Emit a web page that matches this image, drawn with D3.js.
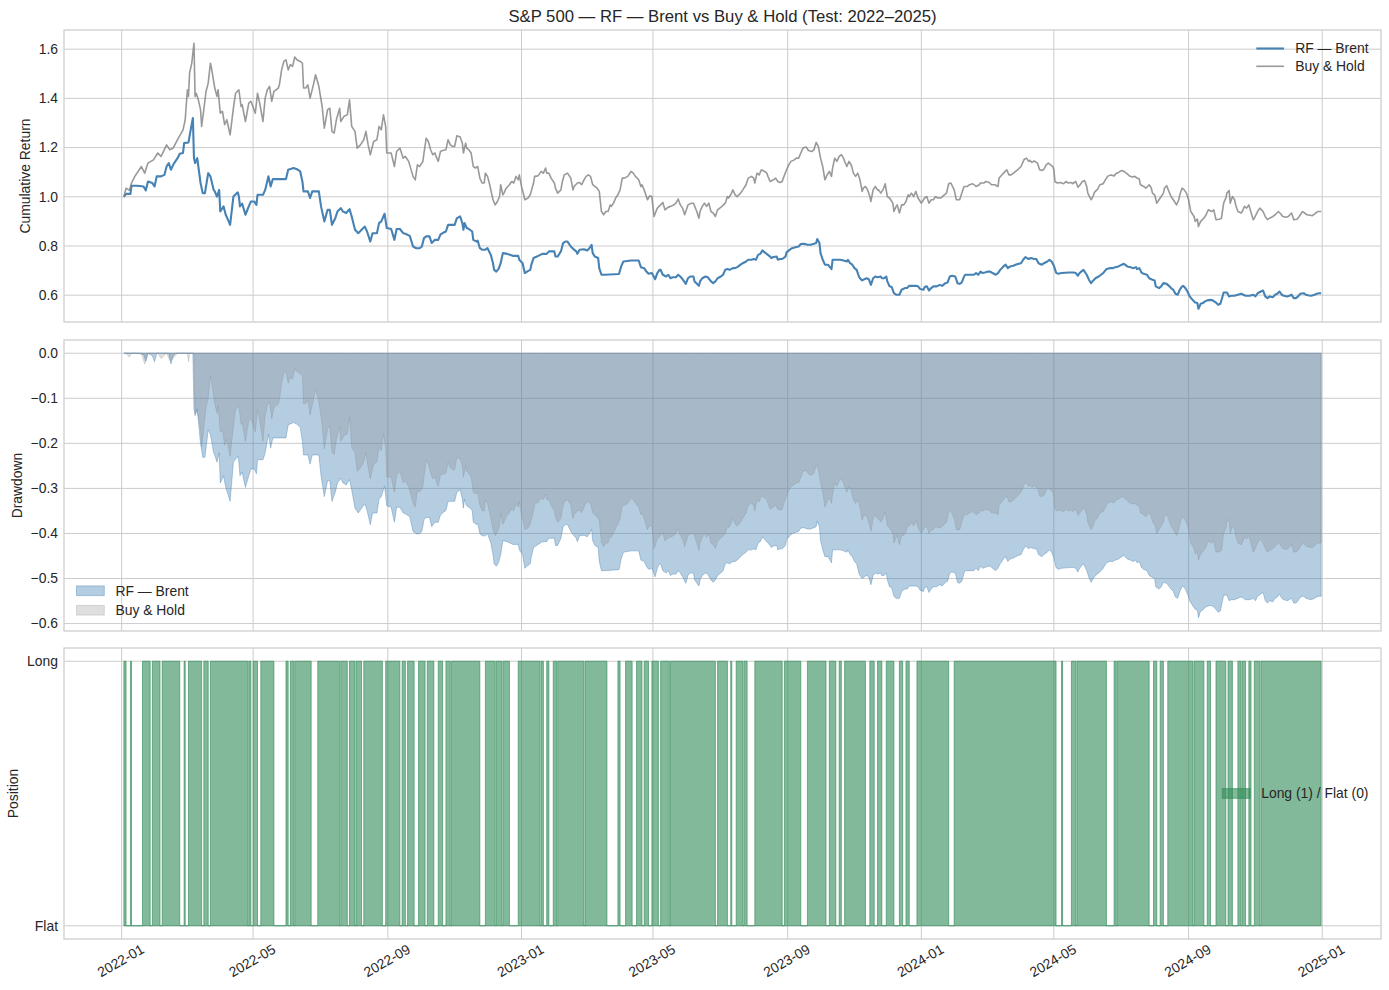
<!DOCTYPE html>
<meta charset="utf-8">
<script src="https://d3js.org/d3.v7.min.js"></script>
<style>
  body { margin: 0; background: #fff; }
  svg { display: block; }
</style>
<div id="chart"></div>
<script>
// ---- data (day offsets from 2022-01-01) ----
const rfCumulative = [
  [2,1.000],[4,1.012],[8,1.012],[9,1.045],[14,1.045],[20,1.042],[22,1.026],[24,1.062],[28,1.056],[30,1.042],
  [32,1.083],[36,1.083],[39,1.089],[41,1.123],[43,1.137],[45,1.110],[47,1.130],[49,1.144],[51,1.157],[53,1.175],
  [56,1.178],[57,1.218],[61,1.221],[63,1.272],[65,1.320],[66,1.157],[67,1.137],[69,1.157],[70,1.123],[72,1.056],
  [74,1.015],[76,1.015],[79,1.096],[81,1.083],[84,1.028],[85,1.022],[87,1.001],[89,1.028],[90,0.940],[93,0.961],
  [95,0.927],[97,0.907],[99,0.886],[102,1.001],[106,1.018],[107,1.001],[108,0.961],[110,0.972],[113,0.927],[116,0.961],
  [118,0.981],[121,0.981],[123,0.967],[124,1.008],[129,1.008],[131,1.028],[134,1.083],[136,1.042],[138,1.072],[150,1.072],
  [152,1.110],[157,1.117],[160,1.112],[163,1.103],[165,1.062],[166,1.022],[170,1.022],[172,0.995],[174,1.022],[180,1.022],
  [182,0.961],[185,0.900],[188,0.947],[190,0.947],[192,0.886],[195,0.913],[197,0.940],[200,0.954],[202,0.940],[205,0.934],
  [208,0.950],[210,0.920],[213,0.866],[216,0.852],[219,0.866],[222,0.879],[224,0.859],[227,0.818],[229,0.852],[233,0.852],
  [235,0.893],[237,0.900],[240,0.931],[242,0.873],[246,0.869],[249,0.825],[251,0.869],[254,0.869],[257,0.852],[259,0.850],
  [263,0.841],[266,0.798],[269,0.791],[272,0.791],[274,0.798],[276,0.832],[278,0.839],[281,0.839],[283,0.812],[286,0.825],
  [289,0.825],[291,0.846],[294,0.855],[296,0.859],[298,0.886],[304,0.886],[306,0.913],[309,0.920],[311,0.893],[312,0.866],
  [313,0.893],[315,0.873],[317,0.869],[320,0.859],[321,0.825],[324,0.818],[325,0.822],[327,0.791],[329,0.785],[332,0.785],
  [334,0.791],[337,0.764],[339,0.730],[340,0.703],[342,0.696],[344,0.706],[346,0.730],[347,0.751],[348,0.771],[352,0.768],
  [357,0.760],[362,0.760],[363,0.744],[366,0.730],[368,0.690],[370,0.696],[373,0.703],[374,0.724],[376,0.751],[379,0.757],
  [384,0.768],[388,0.768],[390,0.778],[395,0.778],[396,0.757],[398,0.757],[401,0.778],[403,0.812],[405,0.818],[407,0.818],
  [410,0.798],[413,0.785],[415,0.778],[416,0.768],[418,0.785],[422,0.787],[425,0.782],[427,0.791],[429,0.805],[430,0.771],
  [432,0.757],[435,0.751],[436,0.710],[438,0.683],[441,0.683],[454,0.686],[456,0.717],[458,0.737],[465,0.741],[472,0.741],
  [474,0.714],[477,0.710],[479,0.696],[481,0.687],[484,0.690],[487,0.665],[489,0.690],[491,0.703],[492,0.703],[494,0.683],
  [497,0.676],[499,0.683],[501,0.669],[503,0.673],[506,0.673],[508,0.683],[510,0.676],[512,0.665],[515,0.646],[517,0.669],
  [519,0.676],[522,0.676],[523,0.656],[527,0.638],[528,0.656],[530,0.669],[533,0.676],[535,0.673],[538,0.656],[540,0.649],
  [542,0.656],[544,0.669],[547,0.676],[549,0.683],[551,0.703],[553,0.706],[555,0.703],[558,0.710],[560,0.710],[562,0.714],
  [565,0.724],[567,0.730],[570,0.737],[572,0.744],[575,0.744],[577,0.747],[579,0.744],[581,0.764],[583,0.768],[585,0.782],
  [587,0.774],[590,0.764],[592,0.757],[593,0.751],[595,0.755],[598,0.757],[599,0.744],[601,0.747],[603,0.747],[606,0.757],
  [607,0.774],[610,0.785],[612,0.791],[615,0.795],[618,0.798],[620,0.808],[623,0.809],[626,0.805],[629,0.805],[632,0.809],
  [634,0.812],[635,0.828],[637,0.812],[638,0.771],[640,0.744],[642,0.724],[645,0.724],[646,0.717],[648,0.706],[649,0.744],
  [652,0.744],[656,0.744],[659,0.741],[662,0.737],[663,0.744],[665,0.730],[667,0.724],[669,0.710],[671,0.703],[673,0.676],
  [674,0.669],[676,0.660],[678,0.665],[680,0.669],[682,0.665],[684,0.642],[686,0.669],[688,0.676],[690,0.673],[693,0.676],
  [694,0.669],[696,0.669],[698,0.676],[699,0.656],[701,0.636],[703,0.633],[705,0.608],[707,0.602],[710,0.602],[712,0.622],
  [715,0.629],[717,0.629],[719,0.638],[725,0.638],[727,0.636],[729,0.625],[732,0.622],[733,0.633],[735,0.636],[737,0.619],
  [739,0.629],[741,0.636],[744,0.636],[747,0.642],[749,0.638],[752,0.649],[754,0.652],[756,0.676],[758,0.679],[761,0.676],
  [763,0.649],[765,0.646],[767,0.652],[769,0.676],[770,0.683],[778,0.683],[780,0.690],[782,0.683],[784,0.696],[786,0.690],
  [788,0.692],[791,0.696],[793,0.696],[795,0.690],[798,0.683],[800,0.690],[802,0.703],[805,0.717],[807,0.724],[809,0.710],
  [811,0.717],[814,0.720],[816,0.724],[819,0.728],[821,0.730],[823,0.744],[825,0.755],[828,0.747],[830,0.751],[833,0.747],
  [835,0.747],[837,0.730],[840,0.724],[842,0.730],[845,0.737],[847,0.744],[849,0.737],[851,0.720],[853,0.692],[855,0.687],
  [858,0.690],[865,0.692],[869,0.692],[871,0.690],[873,0.679],[874,0.687],[876,0.696],[878,0.703],[881,0.683],[883,0.663],
  [885,0.649],[887,0.660],[889,0.669],[892,0.676],[894,0.683],[896,0.690],[899,0.706],[902,0.710],[905,0.710],[907,0.714],
  [910,0.717],[913,0.724],[915,0.728],[916,0.724],[918,0.717],[921,0.714],[923,0.710],[926,0.714],[927,0.706],[929,0.710],
  [931,0.692],[933,0.687],[936,0.683],[938,0.669],[941,0.663],[943,0.660],[944,0.636],[947,0.629],[949,0.636],[951,0.649],
  [954,0.646],[956,0.638],[958,0.629],[960,0.622],[962,0.606],[964,0.602],[966,0.622],[968,0.636],[969,0.638],[971,0.629],
  [973,0.615],[975,0.595],[978,0.579],[980,0.570],[982,0.568],[983,0.545],[985,0.565],[987,0.568],[989,0.575],[991,0.579],
  [994,0.581],[996,0.579],[999,0.570],[1001,0.561],[1003,0.565],[1005,0.595],[1006,0.611],[1009,0.611],[1011,0.595],[1013,0.598],
  [1016,0.598],[1019,0.602],[1022,0.606],[1024,0.602],[1026,0.598],[1030,0.598],[1033,0.602],[1035,0.595],[1037,0.608],[1040,0.615],
  [1042,0.619],[1044,0.595],[1046,0.588],[1048,0.595],[1051,0.592],[1053,0.602],[1055,0.606],[1057,0.615],[1059,0.602],[1061,0.598],
  [1064,0.595],[1066,0.598],[1068,0.602],[1070,0.588],[1072,0.588],[1074,0.595],[1076,0.606],[1079,0.608],[1081,0.602],[1084,0.599],
  [1086,0.598],[1089,0.602],[1091,0.606],[1093,0.608],[1095,0.608]
];

const buyHoldCumulative = [
  [2,1.000],[4,1.035],[7,1.026],[9,1.056],[12,1.083],[18,1.123],[21,1.096],[24,1.137],[29,1.150],[33,1.178],
  [36,1.164],[41,1.211],[44,1.191],[47,1.198],[51,1.232],[56,1.272],[58,1.313],[60,1.435],[61,1.408],[62,1.503],
  [64,1.543],[66,1.624],[67,1.408],[68,1.421],[70,1.394],[72,1.354],[73,1.286],[75,1.354],[77,1.428],[79,1.462],
  [81,1.543],[82,1.523],[85,1.442],[87,1.408],[88,1.435],[90,1.340],[92,1.347],[94,1.293],[96,1.313],[99,1.252],
  [102,1.360],[104,1.421],[107,1.435],[109,1.367],[110,1.374],[113,1.306],[116,1.381],[118,1.388],[122,1.340],[124,1.421],
  [126,1.381],[129,1.306],[131,1.401],[133,1.435],[135,1.449],[137,1.388],[139,1.428],[143,1.442],[144,1.455],[146,1.516],
  [148,1.550],[150,1.557],[152,1.516],[154,1.537],[156,1.530],[158,1.568],[160,1.557],[163,1.550],[165,1.543],[166,1.442],
  [168,1.442],[170,1.455],[172,1.401],[175,1.455],[177,1.496],[180,1.449],[183,1.367],[185,1.279],[188,1.354],[190,1.360],
  [192,1.266],[194,1.259],[196,1.313],[199,1.360],[200,1.306],[203,1.327],[206,1.333],[208,1.394],[210,1.286],[213,1.266],
  [215,1.198],[218,1.211],[221,1.232],[223,1.266],[225,1.211],[227,1.171],[230,1.225],[233,1.232],[235,1.286],[237,1.272],
  [239,1.333],[241,1.286],[242,1.178],[246,1.178],[249,1.123],[251,1.184],[254,1.198],[257,1.157],[259,1.164],[262,1.144],
  [266,1.083],[268,1.069],[270,1.130],[272,1.123],[275,1.144],[276,1.178],[278,1.238],[280,1.225],[282,1.191],[284,1.171],
  [286,1.178],[287,1.164],[289,1.144],[291,1.184],[293,1.188],[296,1.191],[298,1.232],[300,1.211],[302,1.205],[304,1.205],
  [306,1.248],[309,1.243],[311,1.218],[312,1.178],[314,1.218],[315,1.198],[317,1.191],[319,1.178],[321,1.123],[323,1.117],
  [325,1.123],[327,1.076],[329,1.056],[331,1.056],[332,1.096],[334,1.083],[336,1.049],[337,1.028],[339,0.988],[341,0.967],
  [343,0.981],[345,1.001],[346,1.049],[348,1.008],[349,1.015],[351,1.035],[354,1.049],[356,1.062],[358,1.056],[360,1.083],
  [362,1.069],[363,1.089],[365,1.042],[367,1.008],[368,0.988],[371,0.995],[373,1.008],[376,1.056],[377,1.083],[380,1.085],
  [383,1.103],[385,1.096],[387,1.117],[388,1.096],[390,1.096],[392,1.076],[395,1.056],[396,1.035],[398,1.015],[401,1.028],
  [402,1.056],[404,1.089],[407,1.096],[410,1.076],[412,1.028],[413,1.042],[416,1.056],[418,1.058],[420,1.049],[422,1.069],
  [424,1.083],[426,1.089],[428,1.083],[430,1.049],[432,1.042],[434,1.035],[436,1.022],[438,0.940],[440,0.927],[442,0.940],
  [444,0.940],[446,0.967],[447,0.961],[449,0.974],[451,0.995],[453,1.008],[455,1.028],[457,1.076],[459,1.076],[462,1.083],
  [465,1.103],[467,1.096],[469,1.083],[472,1.069],[474,1.042],[475,1.049],[477,1.028],[480,0.988],[482,1.004],[484,1.001],
  [486,0.920],[489,0.954],[492,0.967],[494,0.977],[496,0.947],[499,0.958],[501,0.961],[504,0.967],[506,0.974],[508,0.991],
  [510,0.967],[512,0.954],[514,0.927],[517,0.967],[520,0.974],[522,0.974],[525,0.940],[527,0.913],[528,0.940],[530,0.961],
  [532,0.974],[534,0.961],[536,0.974],[538,0.940],[540,0.934],[542,0.920],[544,0.947],[546,0.954],[548,0.961],[551,0.974],
  [553,1.001],[554,0.995],[556,1.008],[558,1.028],[560,1.008],[562,1.001],[565,1.015],[567,1.028],[570,1.049],[572,1.076],
  [575,1.083],[577,1.076],[578,1.056],[580,1.096],[582,1.089],[584,1.110],[587,1.103],[589,1.096],[590,1.083],[592,1.062],
  [595,1.069],[597,1.076],[599,1.062],[601,1.058],[603,1.062],[604,1.076],[607,1.110],[609,1.130],[611,1.144],[614,1.150],
  [616,1.157],[618,1.157],[620,1.178],[622,1.198],[625,1.202],[627,1.188],[630,1.184],[632,1.191],[634,1.221],[636,1.205],
  [638,1.157],[640,1.123],[642,1.069],[644,1.089],[646,1.103],[648,1.083],[649,1.117],[651,1.157],[653,1.144],[655,1.164],
  [657,1.171],[659,1.157],[660,1.144],[662,1.123],[664,1.144],[666,1.130],[668,1.096],[670,1.083],[672,1.096],[674,1.069],
  [676,1.022],[677,1.035],[679,1.042],[681,1.028],[683,1.001],[684,0.981],[686,1.028],[688,1.042],[690,1.028],[691,1.028],
  [693,1.015],[695,1.028],[697,1.053],[699,1.001],[701,0.995],[702,0.988],[704,0.974],[705,0.940],[707,0.961],[708,0.967],
  [710,0.934],[712,0.967],[714,0.967],[716,0.981],[718,1.008],[719,1.001],[721,1.015],[723,1.001],[725,1.022],[727,0.995],
  [729,0.981],[730,0.974],[733,0.995],[735,1.001],[737,0.974],[739,0.988],[741,0.988],[743,1.001],[745,0.995],[748,0.995],
  [751,1.008],[753,1.015],[755,1.053],[757,1.056],[760,1.028],[762,0.988],[765,0.988],[767,1.015],[769,1.042],[772,1.042],
  [774,1.049],[777,1.053],[780,1.042],[783,1.049],[784,1.056],[787,1.056],[789,1.062],[792,1.058],[794,1.049],[797,1.049],
  [800,1.042],[801,1.076],[805,1.096],[808,1.110],[810,1.089],[812,1.089],[815,1.099],[818,1.110],[821,1.123],[824,1.153],
  [826,1.157],[828,1.144],[829,1.148],[831,1.140],[833,1.146],[836,1.137],[838,1.110],[840,1.107],[842,1.112],[844,1.130],
  [846,1.137],[848,1.130],[850,1.123],[851,1.110],[852,1.062],[854,1.056],[857,1.058],[860,1.053],[862,1.062],[864,1.056],
  [867,1.058],[868,1.053],[871,1.062],[873,1.039],[875,1.049],[877,1.062],[879,1.066],[881,1.042],[882,1.015],[885,0.988],
  [887,1.004],[888,1.018],[891,1.031],[893,1.049],[896,1.053],[898,1.069],[900,1.083],[903,1.089],[906,1.085],[908,1.096],
  [910,1.099],[913,1.107],[915,1.103],[918,1.093],[920,1.085],[923,1.080],[925,1.083],[927,1.076],[929,1.072],[930,1.049],
  [933,1.042],[935,1.035],[938,1.049],[940,1.035],[941,1.015],[943,1.008],[945,0.974],[947,0.988],[949,1.001],[951,1.015],
  [952,1.035],[954,1.045],[956,1.022],[958,1.001],[960,0.988],[963,0.967],[965,0.988],[966,1.008],[968,1.035],[970,1.028],
  [972,1.015],[974,0.988],[976,0.940],[979,0.920],[980,0.900],[982,0.909],[983,0.879],[985,0.900],[988,0.913],[990,0.927],
  [992,0.947],[995,0.940],[997,0.947],[999,0.907],[1002,0.909],[1004,0.913],[1006,0.974],[1008,0.995],[1009,1.015],[1011,1.026],
  [1012,0.974],[1014,1.001],[1016,0.988],[1017,0.967],[1019,0.940],[1022,0.934],[1023,0.940],[1025,0.961],[1027,0.954],[1029,0.967],
  [1031,0.936],[1033,0.907],[1034,0.913],[1037,0.940],[1039,0.954],[1042,0.940],[1044,0.920],[1046,0.907],[1048,0.913],[1051,0.920],
  [1053,0.927],[1056,0.940],[1058,0.931],[1060,0.920],[1063,0.917],[1065,0.920],[1068,0.934],[1070,0.907],[1073,0.909],[1075,0.920],
  [1078,0.940],[1080,0.934],[1082,0.927],[1085,0.925],[1087,0.923],[1090,0.934],[1092,0.940],[1095,0.940]
];

// long (1) periods as [first day, last day]; flat (0) in between
const longPeriods = [
  [2,4],[8,9],[19,26],[28,35],[37,53],[57,58],[61,73],[75,79],[81,115],[116,118],
  [120,124],[127,139],[150,152],[154,157],[158,173],[179,199],[200,206],[208,213],[214,219],[221,238],
  [241,254],[256,259],[261,267],[271,277],[279,285],[289,293],[296,300],[301,327],[332,341],[342,347],
  [348,354],[362,382],[383,385],[388,390],[394,397],[398,422],[423,443],[453,455],[460,466],[470,475],
  [477,481],[484,490],[492,500],[501,542],[544,553],[556,557],[561,567],[568,571],[578,603],[605,620],
  [626,643],[646,652],[655,657],[660,679],[683,687],[690,694],[698,705],[710,713],[716,719],[726,755],
  [760,853],[858,859],[867,871],[872,899],[906,908],[909,938],[942,945],[948,951],[955,978],[979,988],
  [991,994],[999,1008],[1010,1014],[1019,1022],[1023,1026],[1029,1031],[1034,1039],[1040,1095]
];

const cumTicks = [0.6, 0.8, 1.0, 1.2, 1.4, 1.6];
const ddTicks = [0, -0.1, -0.2, -0.3, -0.4, -0.5, -0.6];
const posTicks = [0, 1];
const posTickLabels = ["Flat", "Long"];
const seriesNames = ["RF — Brent", "Buy & Hold"];

// ---- layout ----
const font = '"Liberation Sans", Arial, sans-serif';
const fs = 13.9;
const L = 64, R = 1381;
const p1 = [30, 322], p2 = [340, 631], p3 = [648, 939];
const ink = "#262626", gridCol = "#cccccc";
const blue = "#4682b4", grey = "#808080", green = "#2e8b57";

const svg = d3.select("#chart").append("svg")
  .attr("width", 1389).attr("height", 990)
  .style("font-family", font);
svg.append("rect").attr("width", 1389).attr("height", 990).attr("fill", "#fff");

const t0 = Date.UTC(2022, 0, 1);
const toDate = d => new Date(t0 + d * 864e5);

const rf = rfCumulative.map(([d, v]) => ({date: toDate(d), v: v}));
const bh = buyHoldCumulative.map(([d, v]) => ({date: toDate(d), v: v}));

function drawdown(s) {
  let peak = -Infinity;
  return s.map(p => { peak = Math.max(peak, p.v); return {date: p.date, v: p.v / peak - 1}; });
}
const rfDD = drawdown(rf), bhDD = drawdown(bh);

function padded(lo, hi) { const r = hi - lo; return [lo - 0.05 * r, hi + 0.05 * r]; }

const both = rf.concat(bh);
const dExt = d3.extent(both, p => +p.date);
const x = d3.scaleUtc().domain(padded(dExt[0], dExt[1]).map(t => new Date(t))).range([L, R]);
const yCum = d3.scaleLinear().domain(padded(d3.min(both, p => p.v), d3.max(both, p => p.v))).range([p1[1], p1[0]]);
const yDD = d3.scaleLinear().domain(padded(d3.min(rfDD.concat(bhDD), p => p.v), 0)).range([p2[1], p2[0]]);
const yPos = d3.scaleLinear().domain(padded(0, 1)).range([p3[1], p3[0]]);

const xTicks = x.ticks(d3.utcMonth.every(4));

function panelBase(box, y, ticks, labels, title) {
  const g = svg.append("g");
  g.selectAll("line.vx").data(xTicks).join("line").attr("class", "vx")
    .attr("x1", d => x(d)).attr("x2", d => x(d)).attr("y1", box[0]).attr("y2", box[1])
    .attr("stroke", gridCol).attr("stroke-width", 1);
  g.selectAll("line.hy").data(ticks).join("line").attr("class", "hy")
    .attr("x1", L).attr("x2", R).attr("y1", d => y(d)).attr("y2", d => y(d))
    .attr("stroke", gridCol).attr("stroke-width", 1);
  const tl = svg.append("g").selectAll("text").data(ticks).join("text")
    .attr("x", L - 6).attr("y", d => y(d)).attr("dy", "0.35em")
    .attr("text-anchor", "end").attr("font-size", fs).attr("fill", ink)
    .text((d, i) => labels ? labels[i] : d3.format(".1f")(d));
  let w = 0;
  tl.each(function() { w = Math.max(w, this.getComputedTextLength()); });
  const lx = L - 6 - w - 5.6 - 3;
  svg.append("text").attr("transform", `translate(${lx},${(box[0] + box[1]) / 2}) rotate(-90)`)
    .attr("text-anchor", "middle").attr("font-size", fs).attr("fill", ink).text(title);
}

function frame(box) {
  svg.append("rect").attr("x", L).attr("y", box[0]).attr("width", R - L).attr("height", box[1] - box[0])
    .attr("fill", "none").attr("stroke", gridCol).attr("stroke-width", 1.25);
}

// ---- panel 1: cumulative return ----
panelBase(p1, yCum, cumTicks, null, "Cumulative Return");
const line = y => d3.line().x(p => x(p.date)).y(p => y(p.v));
svg.append("path").datum(rf).attr("d", line(yCum)).attr("fill", "none")
  .attr("stroke", blue).attr("stroke-width", 2.1).attr("stroke-linejoin", "round");
svg.append("path").datum(bh).attr("d", line(yCum)).attr("fill", "none")
  .attr("stroke", grey).attr("stroke-opacity", 0.8).attr("stroke-width", 1.6).attr("stroke-linejoin", "round");
frame(p1);

svg.append("text").attr("x", (L + R) / 2).attr("y", 21.7).attr("text-anchor", "middle")
  .attr("font-size", 16.7).attr("fill", ink)
  .text("S&P 500 — RF — Brent vs Buy & Hold (Test: 2022–2025)");

function legend(items, right, yRows, leftAnchor) {
  const g = svg.append("g");
  const texts = items.map((it, i) => g.append("text").attr("y", yRows[i]).attr("dy", "0.35em")
    .attr("font-size", fs).attr("fill", ink).text(it.label));
  let w = 0;
  texts.forEach(t => { w = Math.max(w, t.node().getComputedTextLength()); });
  const tx = leftAnchor != null ? leftAnchor + 27.8 + 11.1 : right - w;
  const hx = tx - 11.1 - 27.8;
  texts.forEach(t => t.attr("x", tx));
  items.forEach((it, i) => it.draw(g, hx, yRows[i]));
}

const legR = R - 12.5;
legend([
  {label: seriesNames[0], draw: (g, hx, yy) => g.append("line").attr("x1", hx).attr("x2", hx + 27.8)
    .attr("y1", yy).attr("y2", yy).attr("stroke", blue).attr("stroke-width", 2.1)},
  {label: seriesNames[1], draw: (g, hx, yy) => g.append("line").attr("x1", hx).attr("x2", hx + 27.8)
    .attr("y1", yy).attr("y2", yy).attr("stroke", grey).attr("stroke-opacity", 0.8).attr("stroke-width", 1.6)}
], legR, [48.5, 66.3]);

// ---- panel 2: drawdown ----
panelBase(p2, yDD, ddTicks, null, "Drawdown");
const ddArea = d3.area().x(p => x(p.date)).y0(yDD(0)).y1(p => yDD(p.v));
svg.append("path").datum(rfDD).attr("d", ddArea)
  .attr("fill", blue).attr("fill-opacity", 0.4)
  .attr("stroke", blue).attr("stroke-opacity", 0.4).attr("stroke-width", 1);
svg.append("path").datum(bhDD).attr("d", ddArea)
  .attr("fill", grey).attr("fill-opacity", 0.25)
  .attr("stroke", grey).attr("stroke-opacity", 0.25).attr("stroke-width", 1);
frame(p2);

const patch = (col, op) => (g, hx, yy) => g.append("rect").attr("x", hx).attr("y", yy - 4.9)
  .attr("width", 27.8).attr("height", 9.7).attr("fill", col).attr("fill-opacity", op)
  .attr("stroke", col).attr("stroke-opacity", op).attr("stroke-width", 1);
legend([
  {label: seriesNames[0], draw: patch(blue, 0.4)},
  {label: seriesNames[1], draw: patch(grey, 0.25)}
], null, [590.8, 610.3], L + 12.5);

// ---- panel 3: position ----
panelBase(p3, yPos, posTicks, posTickLabels, "Position");
const steps = [];
longPeriods.forEach(([s, e]) => {
  steps.push({d: s, v: 0}, {d: s, v: 1}, {d: e, v: 1}, {d: e, v: 0});
});
const posArea = d3.area().x(p => x(toDate(p.d))).y0(yPos(0)).y1(p => yPos(p.v));
svg.append("path").datum(steps).attr("d", posArea)
  .attr("fill", green).attr("fill-opacity", 0.6)
  .attr("stroke", green).attr("stroke-opacity", 0.6).attr("stroke-width", 1);
frame(p3);

legend([
  {label: "Long (1) / Flat (0)", draw: patch(green, 0.6)}
], legR, [(p3[0] + p3[1]) / 2]);

// x tick labels (bottom panel only)
const fmt = d3.utcFormat("%Y-%m");
xTicks.forEach(t => {
  const tx = svg.append("text").attr("text-anchor", "middle").attr("dy", "0.35em")
    .attr("font-size", fs).attr("fill", ink).text(fmt(t));
  const w = tx.node().getComputedTextLength();
  const hgt = w * 0.5 + 10 * 0.866;
  tx.attr("transform", `translate(${x(t) - 1},${p3[1] + 4.5 + hgt / 2}) rotate(-30)`);
});
</script>
